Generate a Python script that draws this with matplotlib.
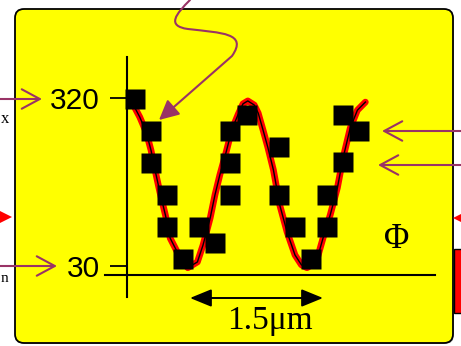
import matplotlib.pyplot as plt
from matplotlib.patches import FancyBboxPatch, FancyArrowPatch, Polygon, Rectangle
from matplotlib.path import Path

# measured points (x in um, y in the same units as the axis labels)
sq_x = [0.10, 0.30, 0.30, 0.50, 0.50, 0.70, 0.90, 1.10, 1.29, 1.29, 1.29,
        1.50, 1.90, 1.90, 2.10, 2.30, 2.50, 2.50, 2.70, 2.70, 2.90]
sq_y = [318, 263, 208, 152, 97, 42, 97, 70, 152, 208, 263,
        291, 235, 152, 97, 42, 97, 152, 209, 291, 263]

# fitted curve
curve_x = [0.01, 0.08, 0.16, 0.24, 0.30, 0.35, 0.41, 0.48, 0.54, 0.64, 0.76,
           0.88, 0.95, 1.04, 1.10, 1.16, 1.24, 1.31, 1.39, 1.45, 1.51, 1.59,
           1.64, 1.70, 1.76, 1.83, 1.91, 2.00, 2.10, 2.18, 2.25, 2.33, 2.38,
           2.45, 2.54, 2.63, 2.70, 2.79, 2.88, 2.98]
curve_y = [323, 308, 287, 261, 230, 196, 158, 118, 78, 51, 27,
           37, 66, 113, 153, 187, 227, 265, 292, 310, 315, 308,
           294, 265, 235, 196, 135, 89, 49, 32, 27, 34, 44,
           78, 118, 165, 216, 268, 299, 313]

y_ticks = [30, 320]
y_labels = ['30', '320']
x_label = '1.5\u03bcm'
phi_label = '\u03a6'

purple = '#993366'

fig = plt.figure(figsize=(4.61, 3.46), dpi=100)
fig.patch.set_facecolor('white')

# overlay in pixel coordinates for the slide decoration
deco = fig.add_axes([0, 0, 1, 1])
deco.set_xlim(0, 461)
deco.set_ylim(346, 0)
deco.axis('off')

deco.add_patch(FancyBboxPatch((17, 11), 437, 333, boxstyle='round,pad=0,rounding_size=9',
                              fc='#c8c8c8', ec='none', zorder=0))
deco.add_patch(FancyBboxPatch((15, 9), 438, 334, boxstyle='round,pad=0,rounding_size=9',
                              fc='#ffff00', ec='black', lw=1.3, zorder=1))

# red bits on the slide edges
deco.add_patch(Polygon([(0, 211), (12, 217), (0, 223)], closed=True, fc='red', ec='none', zorder=1))
deco.add_patch(Polygon([(461, 214), (453, 218), (461, 222)], closed=True, fc='red', ec='none', zorder=2))
deco.add_patch(Rectangle((454, 249), 10, 64, fc='red', ec='black', lw=1, zorder=2))

# small text left of the slide
deco.text(1, 119, 'x', ha='left', va='center', fontsize=12, family='Liberation Serif', zorder=3)
deco.text(0.5, 278, 'n', ha='left', va='center', fontsize=11, family='Liberation Serif', zorder=3)

# pointer arrows
for (xa, ya), (xb, yb) in [((0, 99), (42, 99)), ((0, 266), (57, 266)),
                           ((461, 131), (382, 131)), ((461, 165), (378, 165))]:
    deco.add_patch(FancyArrowPatch((xa, ya), (xb, yb), arrowstyle='->,head_length=1.3,head_width=0.7',
                                   mutation_scale=10, color=purple, lw=1.5,
                                   shrinkA=0, shrinkB=0, zorder=3))

curl = Path([(190, 0), (176, 14), (166, 26), (188, 29), (222, 33), (248, 33), (232, 56), (159, 120)],
            [Path.MOVETO, Path.CURVE4, Path.CURVE4, Path.CURVE4,
             Path.CURVE4, Path.CURVE4, Path.CURVE4, Path.LINETO])
deco.add_patch(FancyArrowPatch(path=curl, arrowstyle='-|>,head_length=1.0,head_width=0.5',
                               mutation_scale=12, color=purple, lw=1.5, zorder=6))

# scale bar
deco.add_patch(FancyArrowPatch((190, 298), (323, 298), arrowstyle='<|-|>,head_length=1.1,head_width=0.45',
                               mutation_scale=12, color='black', lw=1.4,
                               shrinkA=0, shrinkB=0, zorder=3))
deco.text(270, 321, x_label, ha='center', va='center', fontsize=24, family='Liberation Serif', zorder=3)
deco.text(397, 240, phi_label, ha='center', va='center', fontsize=25, family='Liberation Serif', zorder=3)

# data axes
ax = fig.add_axes([127 / 461, 71 / 346, 308 / 461, 218 / 346])
ax.patch.set_alpha(0)
ax.set_xlim(0, 3.85)
ax.set_ylim(14.5, 390.8)
for s in ax.spines.values():
    s.set_visible(False)
ax.axvline(0, ymin=-22 / 218, ymax=1, color='black', lw=1.5, clip_on=False)
ax.axhline(14.5, xmin=-22 / 308, xmax=1, color='black', lw=1.5, clip_on=False)

ax.set_xticks([])
ax.set_yticks(y_ticks)
ax.set_yticklabels(y_labels, fontsize=21.5, family='Liberation Sans')
ax.tick_params(axis='y', length=12.5, width=1.3, pad=7, direction='out')

ax.plot(curve_x, curve_y, color='red', lw=4.8, solid_capstyle='round', zorder=2)
ax.plot(curve_x, curve_y, color='black', lw=1.0, zorder=3)
ax.plot(sq_x, sq_y, 's', color='black', ms=14.4, mec='none', zorder=4, clip_on=False)

fig.savefig('out.png', dpi=100)
